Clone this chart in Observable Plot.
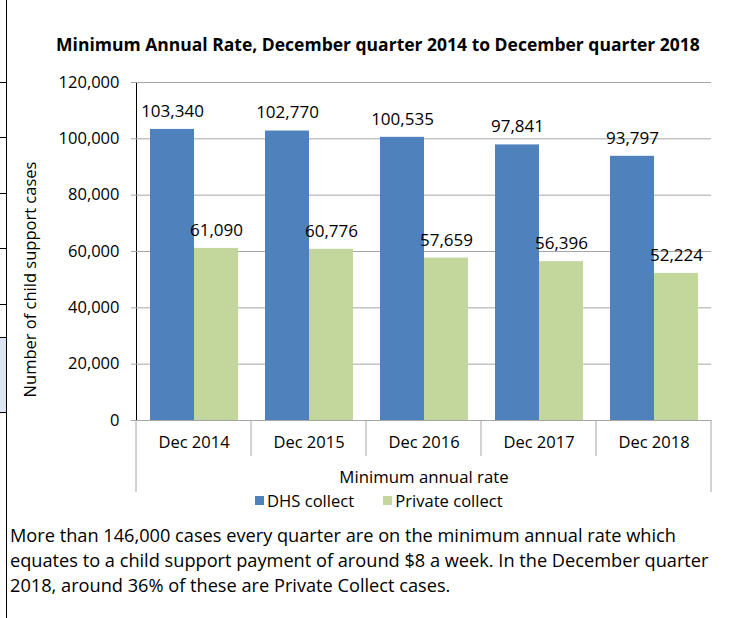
<!DOCTYPE html>
<html><head><meta charset="utf-8">
<script src="https://cdn.jsdelivr.net/npm/d3@7"></script>
<script src="https://cdn.jsdelivr.net/npm/@observablehq/plot@0.6"></script>
<style>
body{margin:0;background:#fff;font-family:"Open Sans", sans-serif;color:#000;}
#wrap{position:relative;width:741px;height:618px;overflow:hidden;}
#chart{position:absolute;left:0;top:0;}
#title{position:absolute;left:0;width:756px;top:32px;text-align:center;font-weight:bold;font-size:17.5px;}
#legend{position:absolute;left:255px;top:484px;}
#legend span[class$="-swatch"]{margin-right:29px !important;}
#legend svg{margin-right:3px !important;}
#caption{position:absolute;left:10px;top:523px;font-size:18.2px;line-height:25px;}
#leftline{position:absolute;left:6px;top:0;width:1px;height:618px;background:#000;}
.seg{position:absolute;left:0;width:6px;height:1px;background:#000;}
#cell{position:absolute;left:0;top:337px;width:6px;height:75px;background:#dce6f1;}
</style></head><body><div id="wrap">
<div id="cell"></div>
<div id="leftline"></div>
<div class="seg" style="top:82px"></div><div class="seg" style="top:137px"></div><div class="seg" style="top:193px"></div><div class="seg" style="top:248px"></div><div class="seg" style="top:304px"></div><div class="seg" style="top:337px"></div><div class="seg" style="top:412px"></div>
<div id="chart"></div>
<div id="title">Minimum Annual Rate, December quarter 2014 to December quarter 2018</div>
<div id="legend"></div>
<div id="caption">More than 146,000 cases every quarter are on the minimum annual rate which<br>equates to a child support payment of around $8 a week. In the December quarter<br>2018, around 36% of these are Private Collect cases.</div>
</div>
<script>
const periods = ["Dec 2014","Dec 2015","Dec 2016","Dec 2017","Dec 2018"];
const seriesNames = ["DHS collect","Private collect"];
const dhsCollect = [103340,102770,100535,97841,93797];
const privateCollect = [61090,60776,57659,56396,52224];
const yTicks = [0,20000,40000,60000,80000,100000,120000];
const colors = ["#4f81bd","#c3d69b"];
const gridColor = "#a6a6a6";
const fmt = d3.format(",");
const yLabel = "Number of child support cases";
const fxLabel = "Minimum annual rate";

const data = periods.flatMap((p,i)=>[
  {period:p, series:seriesNames[0], value:dhsCollect[i]},
  {period:p, series:seriesNames[1], value:privateCollect[i]}
]);

const chart = Plot.plot({
  width: 741, height: 510,
  marginTop: 82, marginLeft: 134, marginRight: 28, marginBottom: 90,
  style: {fontFamily: "'Open Sans', sans-serif", fontSize: "16.5px", color: "#000", background: "transparent", overflow: "visible"},
  facet: {data, x: "period"},
  fx: {domain: periods, padding: 0, axis: "bottom", tickSize: 0, tickPadding: 16, label: fxLabel, labelAnchor: "center", labelOffset: 62, labelArrow: false},
  x: {domain: seriesNames, paddingInner: 0, paddingOuter: 0.3, axis: null},
  y: {domain: [0,120000], ticks: 6, tickFormat: fmt, tickSize: 5, tickPadding: 12, line: true, label: yLabel, labelAnchor: "center", labelOffset: 112, labelArrow: false},
  color: {domain: seriesNames, range: colors},
  marks: [
    Plot.ruleY(yTicks, {stroke: gridColor}),
    Plot.barY(data, {x: "series", y: "value", fill: "series"}),
    Plot.text(data, {x: "series", y: "value", text: d => fmt(d.value), dy: -18, fontSize: 17})
  ]
});
document.getElementById("chart").appendChild(chart);

const svg = d3.select(chart);
svg.selectAll("text").each(function(){
  if (this.childElementCount !== 0) return;
  const t = d3.select(this);
  const s = t.text().replace(/\s*[↑→↓←]\s*/g, "");
  t.text(s);
  if (s === yLabel) {
    t.attr("transform", "translate(0,28) " + (t.attr("transform") || ""));
  }
  if (s === fxLabel) t.style("font-size", "16.8px");
});
svg.selectAll('g[aria-label="y-axis"] line, g[aria-label="y-axis"] path, g[aria-label="y-axis tick"] path').attr("stroke", gridColor);

// category separators from the fx scale
const fx = chart.scale("fx");
const ys = chart.scale("y");
const y0 = ys.apply(0);
const edges = periods.map(p => fx.apply(p));
edges.push(fx.apply(periods[periods.length-1]) + fx.bandwidth);
svg.append("g").selectAll("line").data(edges).join("line")
  .attr("x1", d => d).attr("x2", d => d)
  .attr("y1", y0).attr("y2", (d,i) => y0 + (i === 0 || i === edges.length-1 ? 72 : 36))
  .attr("stroke", gridColor);

const leg = chart.legend("color", {swatchSize: 9, style: {fontFamily: "'Open Sans', sans-serif", fontSize: "16.6px", color: "#000"}});
document.getElementById("legend").appendChild(leg);
</script>
</body></html>
